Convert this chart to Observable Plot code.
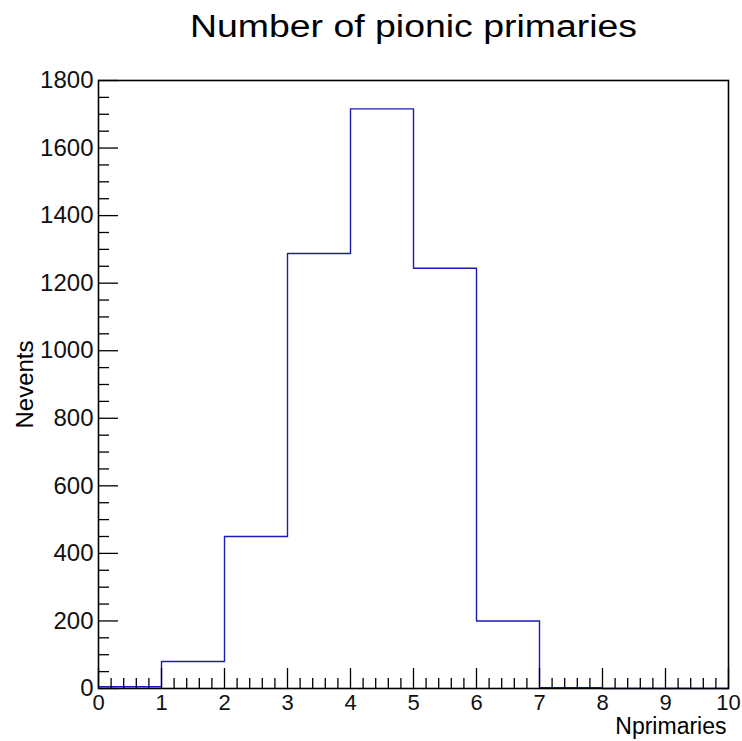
<!DOCTYPE html>
<html>
<head>
<meta charset="utf-8">
<script src="https://cdn.jsdelivr.net/npm/d3@7"></script>
<script src="https://cdn.jsdelivr.net/npm/@observablehq/plot@0.6"></script>
<style>
  body { margin: 0; background: #fff; }
  svg { font-family: "Liberation Sans", Arial, Helvetica, sans-serif; }
</style>
</head>
<body>
<div id="chart"></div>
<script>
// Data: histogram bin lower edges and counts (bin width 1)
const binEdges = [0, 1, 2, 3, 4, 5, 6, 7, 8, 9, 10];
const counts   = [5, 80, 450, 1288, 1716, 1244, 200, 2, 0, 0];
const xTickValues = [0, 1, 2, 3, 4, 5, 6, 7, 8, 9, 10];
const yTickValues = [0, 200, 400, 600, 800, 1000, 1200, 1400, 1600, 1800];
const titleText = "Number of pionic primaries";
const xTitle = "Nprimaries";
const yTitle = "Nevents";

const W = 742, H = 741;
const mL = 98, mR = 14, mT = 80, mB = 53;
const innerW = W - mL - mR, innerH = H - mT - mB;

// step points
const steps = counts.map((c, i) => ({x: binEdges[i], y: c}));
steps.push({x: binEdges[binEdges.length - 1], y: counts[counts.length - 1]});

const xMinor = d3.range(0, 10.0001, 0.2).map(v => +v.toFixed(2)).filter(v => Math.abs(v - Math.round(v)) > 1e-6);
const yMinor = d3.range(0, 1800.1, 50).filter(v => v % 200 !== 0);

const chart = Plot.plot({
  width: W, height: H,
  marginLeft: mL, marginRight: mR, marginTop: mT, marginBottom: mB,
  x: {domain: [0, 10], axis: null},
  y: {domain: [0, 1800], axis: null},
  style: {fontSize: "24px", fontFamily: "'Liberation Sans', Arial, Helvetica, sans-serif", background: "#fff"},
  marks: [
    Plot.line(steps, {x: "x", y: "y", curve: "step-after", stroke: "#1a1ab8", strokeWidth: 1.4}),
    // tick marks (inside)
    Plot.tickX(xTickValues, {x: d => d, insetTop: innerH - 20, stroke: "#000", strokeWidth: 1.3}),
    Plot.tickX(xMinor, {x: d => d, insetTop: innerH - 10, stroke: "#000", strokeWidth: 1.3}),
    Plot.tickY(yTickValues, {y: d => d, insetRight: innerW - 20, stroke: "#000", strokeWidth: 1.3}),
    Plot.tickY(yMinor, {y: d => d, insetRight: innerW - 11, stroke: "#000", strokeWidth: 1.3}),
    Plot.frame({stroke: "#000", strokeWidth: 1.6}),
    // tick labels
    Plot.axisX({ticks: xTickValues, label: null, tickSize: 0, tickPadding: 6, tickFormat: d => String(d), fontSize: 22, fill: "#111"}),
    Plot.axisY({ticks: yTickValues, label: null, tickSize: 0, tickPadding: 5, tickFormat: d => String(d), fontSize: 24, fill: "#111"}),
    // titles
    Plot.text([titleText], {frameAnchor: "top", text: d => d, dy: -53, fontSize: 31, lineAnchor: "middle", fill: "#000"}),
    Plot.text([yTitle], {frameAnchor: "left", text: d => d, textAnchor: "middle", dx: -73, rotate: -90, fontSize: 24, fill: "#000"}),
    Plot.text([xTitle], {frameAnchor: "bottom-right", text: d => d, textAnchor: "end", lineAnchor: "middle", dx: -2, dy: 38, fontSize: 23, fill: "#000"})
  ]
});
document.getElementById("chart").appendChild(chart);
// ROOT's title is rendered wider than the font's natural width; stretch glyphs to match
chart.querySelectorAll("text").forEach(t => {
  if (t.textContent === titleText) {
    t.setAttribute("textLength", 447);
    t.setAttribute("lengthAdjust", "spacingAndGlyphs");
  }
});
</script>
</body>
</html>
